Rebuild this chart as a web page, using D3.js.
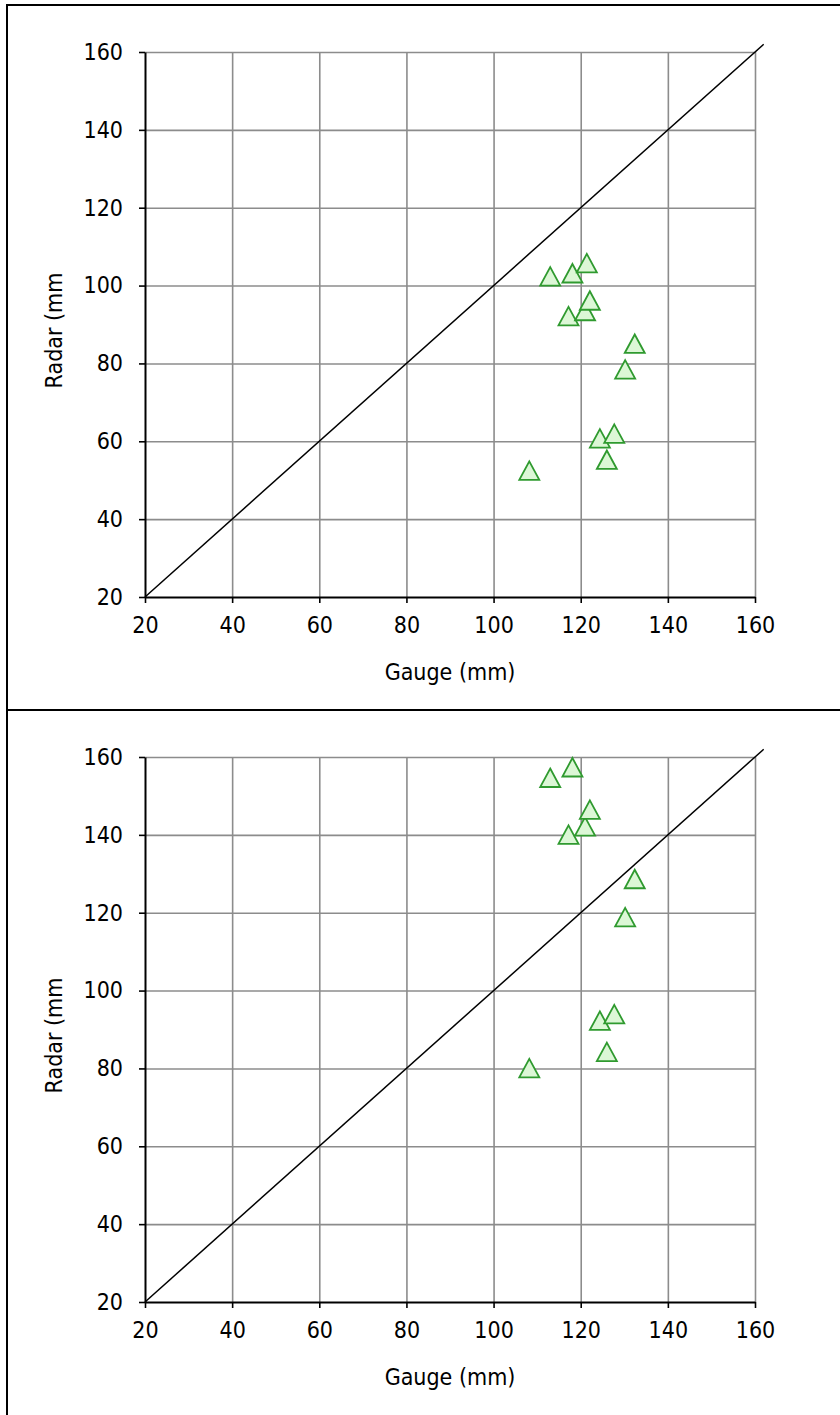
<!DOCTYPE html>
<html>
<head>
<meta charset="utf-8">
<script src="https://cdn.jsdelivr.net/npm/d3@7"></script>
<style>
  body { margin: 0; background: #fff; }
  svg { display: block; }
  .tick text { font-family: 'DejaVu Sans Condensed', 'DejaVu Sans', sans-serif; fill: #000; }
</style>
</head>
<body>
<div id="chart"></div>
<script>
// gauge vs radar values
var gauge = [108.2, 113.0, 118.1, 121.4, 117.2, 121.0, 122.1, 132.4, 130.2, 124.4, 127.7, 126.0];
var radarTop = [52.4, 102.3, 103.1, 105.7, 92.1, 93.4, 96.1, 85.0, 78.4, 60.7, 61.9, 55.2];
// 4th point is above 160 in the lower chart, so it is not drawn
var radarBottom = [80.0, 154.6, 157.3, null, 140.0, 142.1, 146.4, 128.6, 118.8, 92.2, 93.9, 84.2];
var tickValues = [20, 40, 60, 80, 100, 120, 140, 160];
var lineX = [20, 162];
var lineY = [20, 162];
var xTitle = 'Gauge (mm)';
var yTitle = 'Radar (mm';

(function(d3) {
  'use strict';
  var width = 840;
  var height = 1415;
  var font = "'DejaVu Sans Condensed', 'DejaVu Sans', sans-serif";
  var fontSize = 23;
  var margin = {left: 145, top: 47};
  var plotW = 610;
  var plotH = 545;

  var svg = d3.select('#chart')
    .append('svg')
    .attr('width', width)
    .attr('height', height);

  svg.append('rect')
    .attr('width', width)
    .attr('height', height)
    .attr('fill', '#fff');

  var x = d3.scaleLinear().domain([20, 160]).range([0, plotW]);
  var y = d3.scaleLinear().domain([20, 160]).range([plotH, 0]);

  function drawPanel(top, panelHeight, radar) {
    var panel = svg.append('g')
      .attr('transform', 'translate(0,' + top + ')');

    panel.append('rect')
      .attr('x', 7)
      .attr('y', 0)
      .attr('width', 900)
      .attr('height', panelHeight)
      .attr('fill', '#fff')
      .attr('stroke', '#000')
      .attr('stroke-width', 2);

    var g = panel.append('g')
      .attr('transform', 'translate(' + margin.left + ',' + margin.top + ')');

    // gridlines
    g.append('g')
      .attr('class', 'grid')
      .call(d3.axisLeft(y).tickValues(tickValues.slice(1)).tickSize(-plotW).tickFormat(''))
      .call(function(s) { s.select('.domain').remove(); });
    g.append('g')
      .attr('class', 'grid')
      .attr('transform', 'translate(0,' + plotH + ')')
      .call(d3.axisBottom(x).tickValues(tickValues.slice(1)).tickSize(-plotH).tickFormat(''))
      .call(function(s) { s.select('.domain').remove(); });
    g.selectAll('.grid line')
      .attr('stroke', '#8c8c8c')
      .attr('stroke-width', 1.6);

    // axes
    var yAxis = g.append('g')
      .call(d3.axisLeft(y).tickValues(tickValues).tickSize(6).tickPadding(16).tickSizeOuter(0));
    var xAxis = g.append('g')
      .attr('transform', 'translate(0,' + plotH + ')')
      .call(d3.axisBottom(x).tickValues(tickValues).tickSize(6).tickPadding(14).tickSizeOuter(0));
    [yAxis, xAxis].forEach(function(a) {
      a.select('.domain').attr('stroke', '#000').attr('stroke-width', 2);
      a.selectAll('.tick line').attr('stroke', '#000').attr('stroke-width', 1.6);
      a.selectAll('.tick text')
        .style('font-family', font)
        .style('font-size', fontSize + 'px');
    });

    // 1:1 line
    var line = d3.line()
      .x(function(d) { return x(d[0]); })
      .y(function(d) { return y(d[1]); });
    g.append('path')
      .datum(d3.zip(lineX, lineY))
      .attr('d', line)
      .attr('fill', 'none')
      .attr('stroke', '#000')
      .attr('stroke-width', 1.5);

    // triangle markers
    var pts = d3.zip(gauge, radar).filter(function(d) {
      return d[1] != null && d[1] <= 160;
    });
    var tri = 'M0,-9.5L10,9L-10,9Z';
    g.selectAll('.pt')
      .data(pts)
      .enter()
      .append('path')
      .attr('class', 'pt')
      .attr('d', tri)
      .attr('transform', function(d) {
        return 'translate(' + x(d[0]) + ',' + y(d[1]) + ')';
      })
      .attr('fill', '#dcf7d6')
      .attr('stroke', '#2f9a2f')
      .attr('stroke-width', 1.8);

    // titles
    g.append('text')
      .attr('x', plotW / 2)
      .attr('y', plotH + 83)
      .attr('text-anchor', 'middle')
      .style('font-family', font)
      .style('font-size', fontSize + 'px')
      .text(xTitle);
    g.append('text')
      .attr('transform', 'translate(' + (62 - margin.left) + ',' + (plotH / 2 + 6) + ') rotate(-90)')
      .attr('text-anchor', 'middle')
      .style('font-family', font)
      .style('font-size', fontSize + 'px')
      .text(yTitle);
  }

  drawPanel(5, 705, radarTop);
  drawPanel(710, 760, radarBottom);
})(window.d3);
</script>
</body>
</html>
